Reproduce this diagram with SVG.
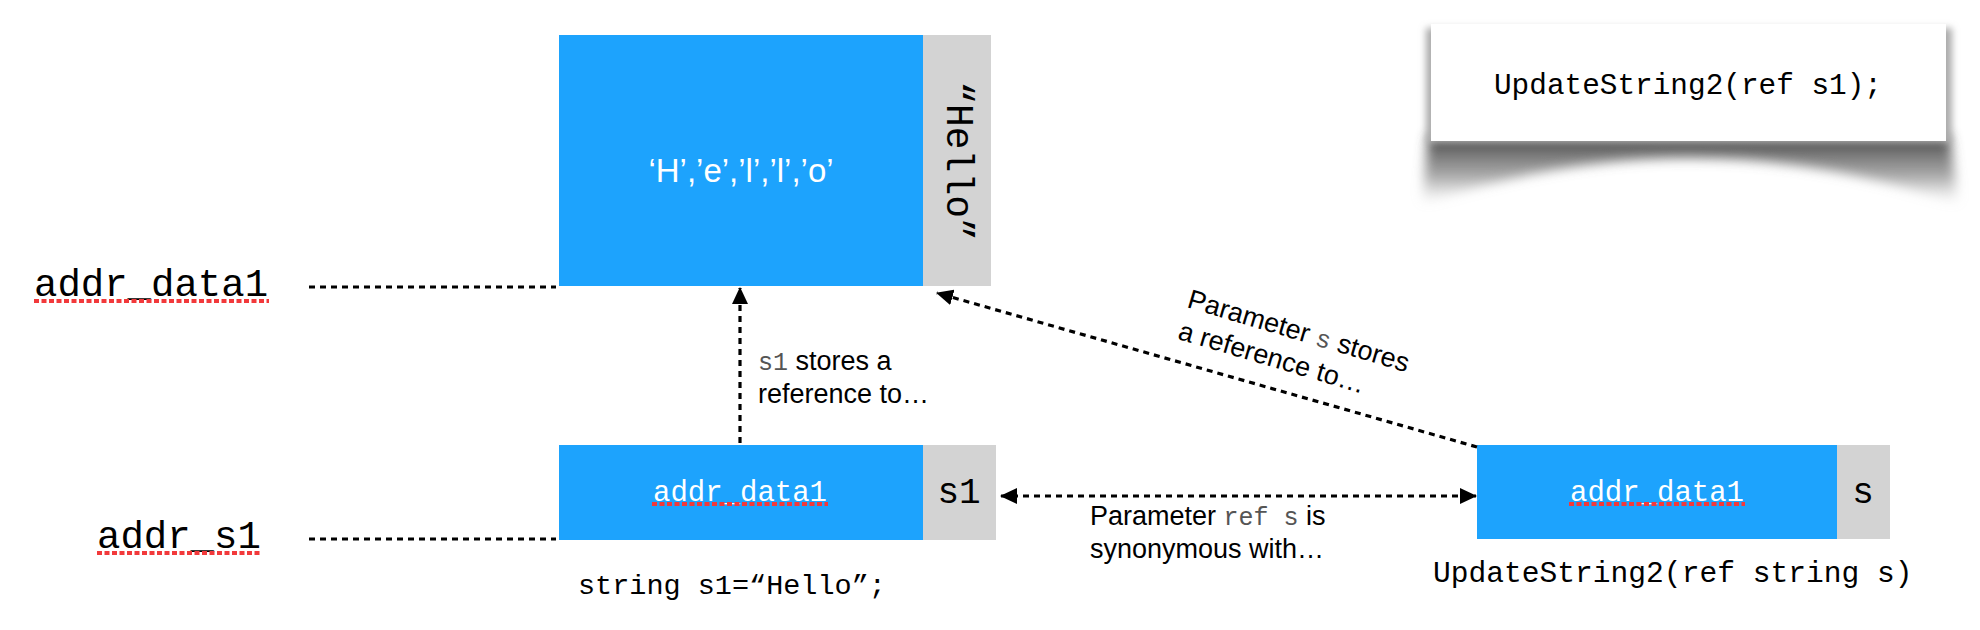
<svg xmlns="http://www.w3.org/2000/svg" width="1980" height="630" viewBox="0 0 1980 630">
<style>
.blue{fill:#1DA3FD}
.gray{fill:#D3D3D3}
.mono{font-family:"Liberation Mono","Courier New",monospace}
.sans{font-family:"Liberation Sans",Arial,sans-serif;font-size:27px;fill:#000}
.code{fill:#555}
.wm{fill:#fff}
.dot{stroke:#000;stroke-width:3.2;stroke-dasharray:6 5;fill:none}
.spell{stroke:#F2393B;stroke-width:3.8;stroke-dasharray:5 2.5;fill:none}
</style>
<defs>
<marker id="ah" markerUnits="userSpaceOnUse" markerWidth="18" markerHeight="16" refX="16" refY="8" orient="auto-start-reverse">
<path d="M0,0 L17,8 L0,16 Z" fill="#000"/>
</marker>
<linearGradient id="sg" x1="0" y1="0" x2="0" y2="1">
<stop offset="0" stop-color="#444" stop-opacity="1"/>
<stop offset="0.6" stop-color="#888" stop-opacity="0.7"/>
<stop offset="1" stop-color="#bbb" stop-opacity="0"/>
</linearGradient>
<filter id="blur" x="-10%" y="-50%" width="120%" height="200%"><feGaussianBlur stdDeviation="6"/></filter>
<filter id="soft" x="-5%" y="-20%" width="110%" height="140%"><feGaussianBlur stdDeviation="3.5"/></filter>
</defs>

<g id="note">
<path d="M1428,136 L1950,136 L1958,204 Q1690,112 1422,204 Z" fill="url(#sg)" filter="url(#blur)"/>
<rect x="1426" y="28" width="526" height="114" fill="#aaa" filter="url(#soft)"/>
<rect x="1431" y="24" width="515" height="117" fill="#fff"/>
<text class="mono" x="1688" y="94" font-size="29.4" text-anchor="middle" fill="#000">UpdateString2(ref s1);</text>
</g>

<g id="addr_data1_label">
<text class="mono" x="34" y="296" font-size="39" fill="#000">addr_data1</text>
<line class="spell" x1="34" y1="301" x2="269" y2="301"/>
</g>
<g id="addr_s1_label">
<text class="mono" x="97" y="548" font-size="39" fill="#000">addr_s1</text>
<line class="spell" x1="97" y1="553" x2="262" y2="553"/>
</g>

<g id="hello_data">
<rect class="blue" x="559" y="35" width="364" height="251"/>
<rect class="gray" x="923" y="35" width="68" height="251"/>
<text x="741" y="182" text-anchor="middle" style="font-family:'Liberation Sans',Arial,sans-serif;font-size:33px;fill:#fff">‘H’,’e’,’l’,’l’,’o’</text>
<text class="mono" transform="translate(957,161) rotate(90)" font-size="38" text-anchor="middle" dominant-baseline="central" fill="#000">“Hello”</text>
</g>

<g id="s1_var">
<rect class="blue" x="559" y="445" width="364" height="95"/>
<rect class="gray" x="923" y="445" width="73" height="95"/>
<text class="mono wm" x="740" y="501" font-size="29" text-anchor="middle">addr_data1</text>
<line class="spell" x1="652" y1="504" x2="828" y2="504"/>
<text class="mono" x="959" y="503" font-size="36" text-anchor="middle" fill="#000">s1</text>
<text class="mono" x="578" y="594" font-size="28.5" fill="#000">string s1=“Hello”;</text>
</g>

<g id="s_param">
<rect class="blue" x="1477" y="445" width="360" height="94"/>
<rect class="gray" x="1837" y="445" width="53" height="94"/>
<text class="mono wm" x="1657" y="501" font-size="29" text-anchor="middle">addr_data1</text>
<line class="spell" x1="1569" y1="504" x2="1745" y2="504"/>
<text class="mono" x="1863" y="503" font-size="36" text-anchor="middle" fill="#000">s</text>
<text class="mono" x="1433" y="582" font-size="29.6" fill="#000">UpdateString2(ref string s)</text>
</g>

<g id="connectors">
<line class="dot" x1="309" y1="287" x2="556" y2="287"/>
<line class="dot" x1="309" y1="539" x2="556" y2="539"/>
<line class="dot" x1="740" y1="443" x2="740" y2="288" marker-end="url(#ah)"/>
<line class="dot" x1="1477" y1="447" x2="937" y2="293" marker-end="url(#ah)"/>
<line class="dot" x1="1001" y1="496" x2="1476" y2="496" marker-start="url(#ah)" marker-end="url(#ah)"/>
</g>

<g id="labels">
<text class="sans" x="758" y="370"><tspan class="mono code" font-size="25">s1</tspan> stores a</text>
<text class="sans" x="758" y="403">reference to…</text>
<text class="sans" x="1090" y="525">Parameter <tspan class="mono code" font-size="25">ref s</tspan> is</text>
<text class="sans" x="1090" y="558">synonymous with…</text>
<text class="sans" transform="rotate(16.5 1186 307)" x="1186" y="307">Parameter <tspan class="mono code" font-size="25">s</tspan> stores<tspan x="1186" dy="33">a reference to…</tspan></text>
</g>
</svg>
